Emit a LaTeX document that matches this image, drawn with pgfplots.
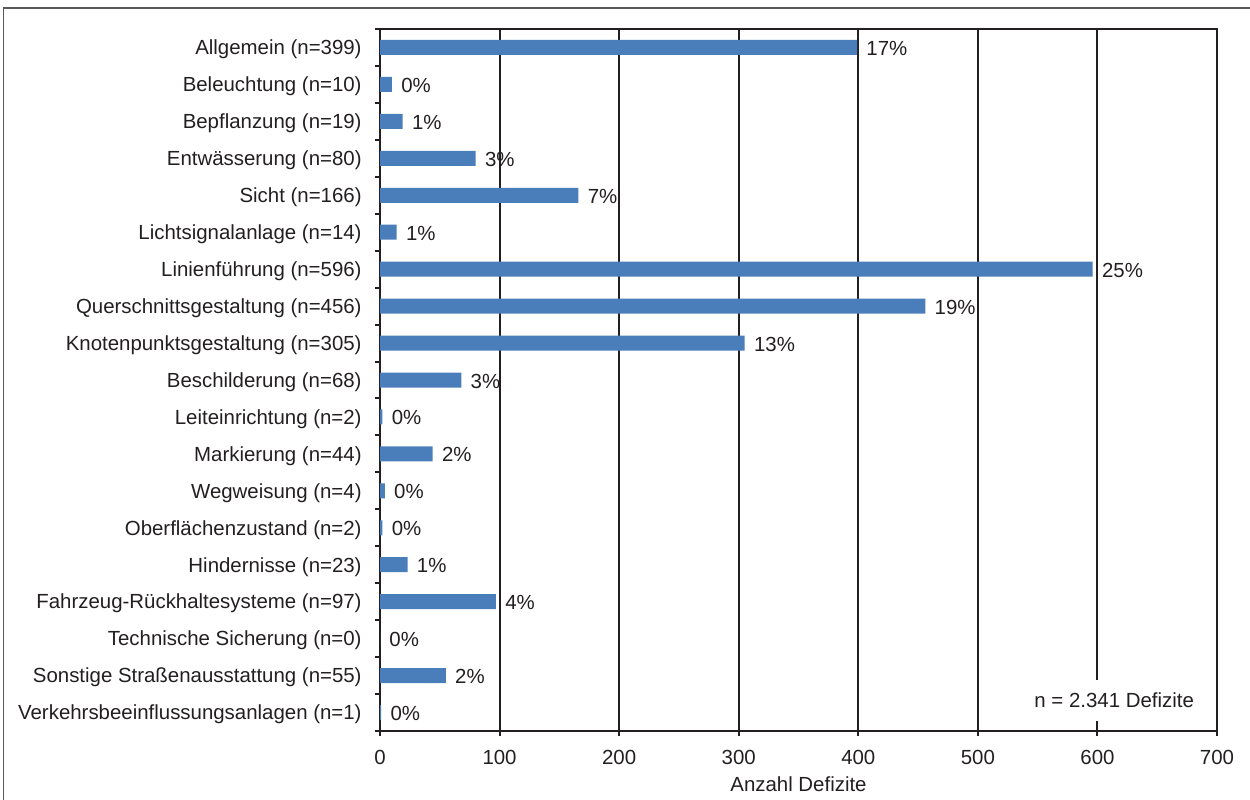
\documentclass[border=0pt]{standalone}
\usepackage{fontspec}
\setmainfont{Liberation Sans}
\usepackage{pgfplots}
\pgfplotsset{compat=1.18}
\usepackage{pgfplotstable}
\definecolor{barblue}{RGB}{74,126,187}
\definecolor{ink}{RGB}{35,31,32}
\definecolor{framegray}{RGB}{90,90,90}

\pgfplotstableread{
pos val pct
0 399 17
1 10 0
2 19 1
3 80 3
4 166 7
5 14 1
6 596 25
7 456 19
8 305 13
9 68 3
10 2 0
11 44 2
12 4 0
13 2 0
14 23 1
15 97 4
16 0 0
17 55 2
18 1 0
}\datatable

\begin{document}
\begin{tikzpicture}[font=\fontsize{10.25}{12}\selectfont]
\path[use as bounding box] (0,0) rectangle (625bp,400bp);
\draw[color=framegray, line width=0.75bp] (1.75bp,0) -- (1.75bp,396bp) -- (625bp,396bp);
\begin{axis}[
  at={(190bp,34.5bp)}, anchor=south west,
  scale only axis, width=418.5bp, height=351bp,
  xbar, bar width=7.5bp,
  xmin=0, xmax=700, ymin=-0.5, ymax=18.5, y dir=reverse,
  xtick={0,100,...,700},
  ytick={-0.5,0.5,...,18.5}, yticklabels={},
  extra y ticks={0,...,18},
  extra y tick labels={{Allgemein (n=399)},{Beleuchtung (n=10)},{Bepflanzung (n=19)},{Entwässerung (n=80)},{Sicht (n=166)},{Lichtsignalanlage (n=14)},{Linienführung (n=596)},{Querschnittsgestaltung (n=456)},{Knotenpunktsgestaltung (n=305)},{Beschilderung (n=68)},{Leiteinrichtung (n=2)},{Markierung (n=44)},{Wegweisung (n=4)},{Oberflächenzustand (n=2)},{Hindernisse (n=23)},{Fahrzeug-Rückhaltesysteme (n=97)},{Technische Sicherung (n=0)},{Sonstige Straßenausstattung (n=55)},{Verkehrsbeeinflussungsanlagen (n=1)}},
  extra y tick style={major tick length=0pt, yticklabel style={inner xsep=0pt, xshift=-9bp, yshift=-1bp}},
  tick align=outside, major tick length=2.5bp,
  xtick pos=bottom, ytick pos=left,
  xmajorgrids, major grid style={ink, line width=1bp},
  axis line style={ink, line width=1bp},
  tick style={ink, line width=1bp},
  /pgf/number format/assume math mode=true,
  tick label style={text=ink, font=\fontsize{10.25}{12}\selectfont},
  xticklabel style={anchor=base, yshift=-14bp},
  xlabel={Anzahl Defizite},
  xlabel style={at={(axis description cs:0.5,0)}, anchor=base, yshift=-30bp, text=ink, font=\fontsize{10.25}{12}\selectfont},
  nodes near coords={\pgfplotspointmeta\%},
  point meta=explicit symbolic,
  every node near coord/.append style={anchor=west, inner xsep=4.5bp, yshift=-0.5bp, text=ink, font=\fontsize{10.25}{12}\selectfont},
]
\addplot[fill=barblue, draw=none] table[x=val, y=pos, meta=pct] {\datatable};
\node[fill=white, inner xsep=3bp, minimum height=20.5bp, text=ink] at (axis cs:614,17.67) {n = 2.341 Defizite};
\end{axis}
\end{tikzpicture}
\end{document}
